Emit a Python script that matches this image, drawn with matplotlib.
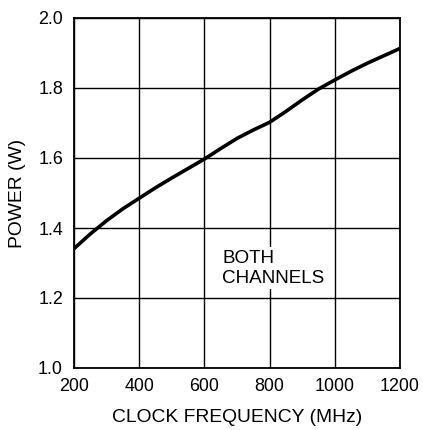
import matplotlib
matplotlib.use("Agg")
import matplotlib.pyplot as plt
import numpy as np

plt.rcParams['font.family'] = ['Liberation Sans', 'DejaVu Sans']

# power vs clock frequency
freq = [200, 250, 300, 350, 400, 450, 500, 550, 600, 650, 700, 750, 800,
        850, 900, 950, 1000, 1050, 1100, 1150, 1200]
power = [1.341, 1.383, 1.421, 1.455, 1.485, 1.515, 1.543, 1.570, 1.597, 1.627,
         1.656, 1.680, 1.702, 1.733, 1.766, 1.797, 1.823, 1.848, 1.871, 1.892, 1.913]

xticks = [200, 400, 600, 800, 1000, 1200]
yticks = [1.0, 1.2, 1.4, 1.6, 1.8, 2.0]

fig = plt.figure(figsize=(4.23, 4.30), dpi=100)
ax = fig.add_axes([74/423, 1 - 368/430, 326/423, 350/430])

ax.plot(freq, power, color='black', lw=2.6, solid_capstyle='butt',
	solid_joinstyle='round', zorder=3)

ax.set_xlim(200, 1200)
ax.set_ylim(1.0, 2.0)
ax.set_xticks(xticks)
ax.set_yticks(yticks)
ax.set_xticklabels([str(t) for t in xticks])
ax.set_yticklabels(["%.1f" % t for t in yticks])
ax.tick_params(length=0, labelsize=12.9)
ax.tick_params(axis='x', pad=7)
ax.tick_params(axis='y', pad=8)
ax.grid(True, color='black', lw=1.0)
ax.set_axisbelow(True)
for s in ax.spines.values():
	s.set_linewidth(1.3)

ax.set_xlabel("CLOCK FREQUENCY (MHz)", fontsize=13.9, labelpad=10)
ax.set_ylabel("POWER (W)", fontsize=13.9, labelpad=9)

ax.text(654, 1.232, "BOTH\nCHANNELS", fontsize=13.6, ha='left', va='bottom',
	linespacing=1.25, zorder=4,
	bbox=dict(facecolor='white', edgecolor='none', pad=1.5))

fig.savefig("out.png", dpi=100)
